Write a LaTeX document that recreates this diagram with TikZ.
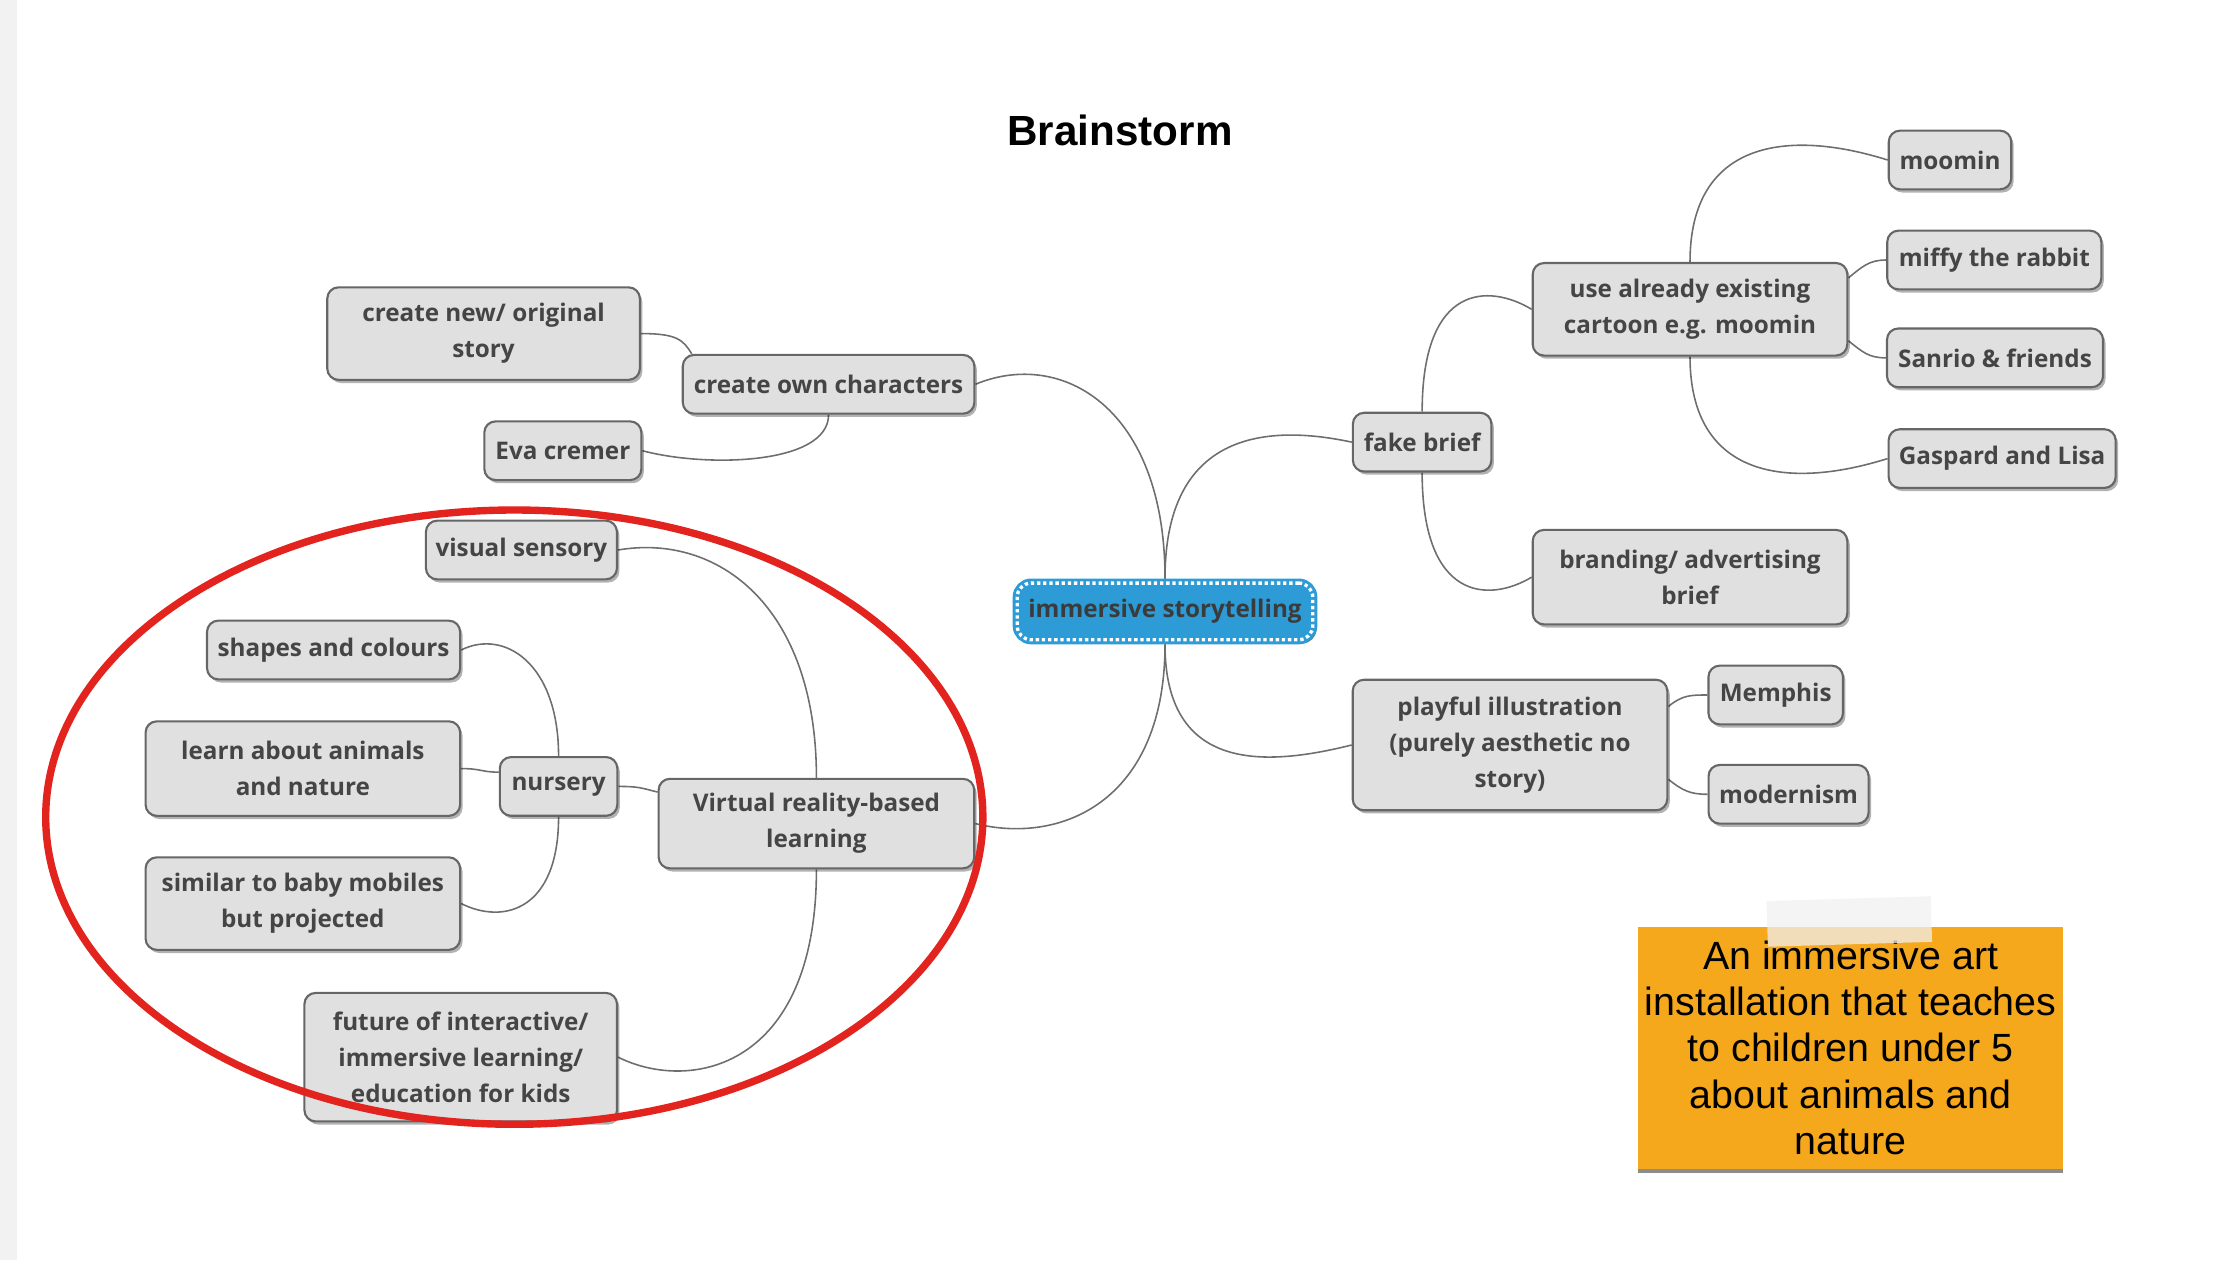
\documentclass[tikz,border=0pt]{standalone}
\usepackage{fontspec}
\setmainfont{Liberation Sans}
\newfontfamily\ideafont{Open Sans}
\usetikzlibrary{shadows,calc}
\definecolor{ideagray}{HTML}{E0E0E0}
\definecolor{idealine}{HTML}{666666}
\definecolor{ideatext}{HTML}{454545}
\definecolor{linkgray}{HTML}{6E6E6E}
\definecolor{rootblue}{HTML}{2C9BD6}
\definecolor{noteorange}{HTML}{F5A81C}
\definecolor{circlered}{HTML}{E2231E}
\pgfdeclarelayer{links}
\pgfsetlayers{links,main}
\tikzset{
  idea/.style={rectangle, rounded corners=3.2pt, fill=ideagray, draw=idealine, line width=0.6pt,
    text=ideatext, font=\ideafont\bfseries\fontsize{6.9}{10.3}\selectfont, align=center,
    inner sep=0pt, minimum height=0.587cm,
    drop shadow={shadow xshift=0.7pt, shadow yshift=-0.9pt, fill=black, opacity=0.3}},
  root/.style={rectangle, rounded corners=4pt, fill=rootblue, draw=rootblue, line width=2.6pt,
    text=ideatext!85!black, font=\ideafont\bfseries\fontsize{6.9}{10.3}\selectfont,
    inner sep=0pt, minimum width=2.955cm, minimum height=0.567cm,
    drop shadow={shadow xshift=1pt, shadow yshift=-1pt, fill=black!80, opacity=0.85},
    postaction={draw=white, line width=0.95pt, dash pattern=on 0.95pt off 0.8pt}},
  note/.style={rectangle, fill=noteorange, inner sep=0pt, align=center,
    minimum width=4.25cm, minimum height=2.42cm, font=\fontsize{11.2}{13.1}\selectfont,
    drop shadow={shadow xshift=0pt, shadow yshift=-1.2pt, fill=black, opacity=0.45}},
  link/.style={draw=linkgray, line width=0.45pt},
}
\begin{document}
\begin{tikzpicture}[x=0.014286cm, y=-0.014286cm]
\useasboundingbox (0,0) rectangle (1568,882);
\fill[black!5] (0,0) rectangle (12,882);
\node[font=\bfseries\fontsize{12}{14}\selectfont] (title) at (784,91) {Brainstorm};
% centre
\node[root] (root) at (815.5,428) {immersive storytelling};
% left side
\node[idea, minimum width=2.915cm] (cre) at (580,269) {create own characters};
\node[idea, minimum width=3.125cm, minimum height=0.925cm] (new) at (338.5,233.5) {create new/ original\\story};
\node[idea, minimum width=1.57cm] (eva) at (394,315.5) {Eva cremer};
\node[idea, minimum width=3.155cm, minimum height=0.895cm] (vr) at (571.5,576.5) {Virtual reality-based\\learning};
\node[idea, minimum width=1.91cm] (vis) at (365,385) {visual sensory};
\node[idea, minimum width=1.175cm] (nur) at (391,550.5) {nursery};
\node[idea, minimum width=2.53cm] (sha) at (233.5,455) {shapes and colours};
\node[idea, minimum width=3.145cm, minimum height=0.945cm] (lea) at (212,538) {learn about animals\\and nature};
\node[idea, minimum width=3.145cm, minimum height=0.925cm] (sim) at (212,632.5) {similar to baby mobiles\\but projected};
\node[idea, minimum width=3.125cm, minimum height=1.285cm] (fut) at (322.5,740) {future of interactive/\\immersive learning/\\education for kids};
% right side
\node[idea, minimum width=1.385cm] (fak) at (995.5,309.5) {fake brief};
\node[idea, minimum width=3.145cm, minimum height=0.925cm] (use) at (1183,216.5) {use already existing\\cartoon e.g. moomin};
\node[idea, minimum width=1.225cm] (moo) at (1365,112) {moomin};
\node[idea, minimum width=2.14cm] (mif) at (1396,182) {miffy the rabbit};
\node[idea, minimum width=2.16cm] (san) at (1396.5,250.5) {Sanrio \& friends};
\node[idea, minimum width=2.27cm] (gas) at (1401.5,321) {Gaspard and Lisa};
\node[idea, minimum width=3.145cm, minimum height=0.945cm] (bra) at (1183,404) {branding/ advertising\\brief};
\node[idea, minimum width=3.145cm, minimum height=1.305cm] (pla) at (1057,521.5) {playful illustration\\(purely aesthetic no\\story)};
\node[idea, minimum width=1.345cm] (mem) at (1243,486.5) {Memphis};
\node[idea, minimum width=1.6cm] (mod) at (1252,556) {modernism};
% links
\begin{pgfonlayer}{links}
\draw[link] (cre.east) .. controls +(60,-25) and +(0,-120) .. (root.north);
\draw[link] (root.north) .. controls +(0,-95) and +(-70,-15) .. (fak.west);
\draw[link] (root.south) .. controls +(0,110) and +(60,15) .. (vr.east);
\draw[link] (root.south) .. controls +(0,90) and +(-60,15) .. (pla.west);
\draw[link] (new.east) .. controls +(25,0) and +(-6,-10) .. ($(cre.north west)+(7,0)$);
\draw[link] (cre.south) .. controls +(0,35) and +(45,12) .. (eva.east);
\draw[link] (vr.north) .. controls +(0,-120) and +(70,-12) .. (vis.east);
\draw[link] (nur.east) .. controls +(14,0) and +(-12,-3) .. ($(vr.north west)+(0,10)$);
\draw[link] (vr.south) .. controls +(0,140) and +(50,25) .. (fut.east);
\draw[link] (nur.north) .. controls +(0,-65) and +(30,-15) .. (sha.east);
\draw[link] (lea.east) .. controls +(14,0) and +(-12,0) .. ($(nur.west)+(0,-10)$);
\draw[link] (nur.south) .. controls +(0,65) and +(30,15) .. (sim.east);
\draw[link] (fak.north) .. controls +(0,-90) and +(-30,-18) .. (use.west);
\draw[link] (fak.south) .. controls +(0,90) and +(-30,18) .. (bra.west);
\draw[link] (use.north) .. controls +(0,-85) and +(-70,-22) .. (moo.west);
\draw[link] ($(use.east)+(0,-22)$) .. controls +(10,-8) and +(-12,0) .. (mif.west);
\draw[link] ($(use.east)+(0,22)$) .. controls +(10,8) and +(-12,0) .. (san.west);
\draw[link] (use.south) .. controls +(0,85) and +(-70,22) .. (gas.west);
\draw[link] ($(pla.east)+(0,-27)$) .. controls +(10,-8) and +(-12,0) .. (mem.west);
\draw[link] ($(pla.east)+(0,24)$) .. controls +(10,8) and +(-12,0) .. (mod.west);
\end{pgfonlayer}
% sticky note
\node[note] (note) at (1295.5,733.5) {An immersive art\\installation that teaches\\to children under 5\\about animals and\\nature};
\fill[white!94!black, opacity=0.75, rotate around={1.7:(1295,645)}] (1237,629) rectangle (1352,661);
% red circle
\draw[circlered, line width=2.1pt] (360,572) ellipse [x radius=328, y radius=215];
\end{tikzpicture}
\end{document}
